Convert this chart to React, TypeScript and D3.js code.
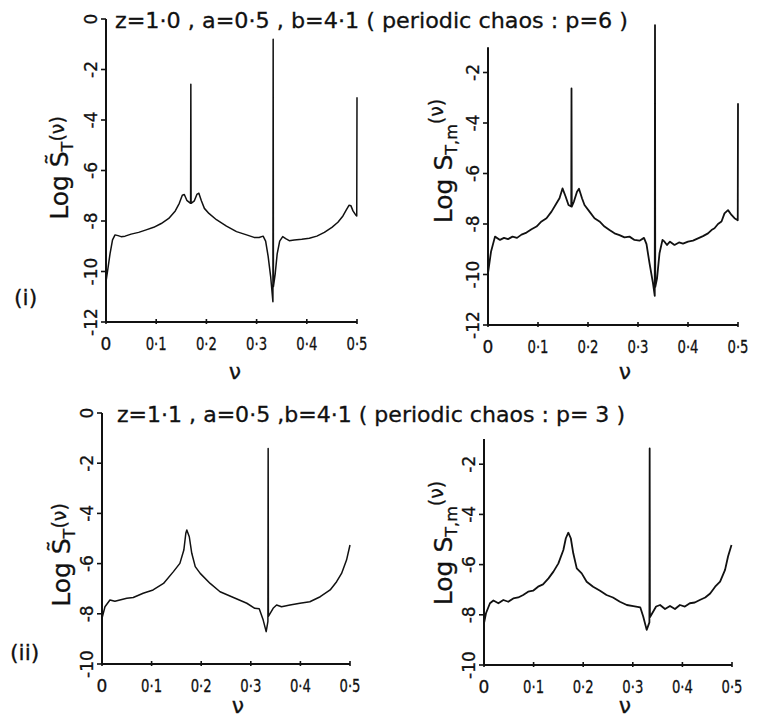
import React from "react";
import * as d3 from "d3";

// ---------- data (ν, log S) ----------
const specTildeP6: [number, number][] = [
  [0, -10.4], [0.003, -10.0], [0.008, -9.3], [0.013, -8.75], [0.018, -8.55], [0.024, -8.58],
  [0.03, -8.62], [0.038, -8.6], [0.05, -8.52], [0.065, -8.45], [0.08, -8.35], [0.095, -8.25],
  [0.11, -8.1], [0.125, -7.9], [0.138, -7.6], [0.146, -7.3], [0.152, -6.98], [0.156, -6.95],
  [0.161, -7.18], [0.1685, -7.3], [0.169, -2.58], [0.1695, -7.3], [0.176, -7.2], [0.181, -6.95],
  [0.185, -6.9], [0.19, -7.2], [0.196, -7.5], [0.205, -7.7], [0.22, -7.95], [0.24, -8.2],
  [0.26, -8.42], [0.28, -8.55], [0.295, -8.65], [0.305, -8.65], [0.313, -8.6], [0.318, -8.8],
  [0.323, -9.4], [0.328, -10.2], [0.3325, -11.2], [0.333, -0.8], [0.3335, -10.6], [0.337, -10.1],
  [0.341, -9.3], [0.346, -8.8], [0.352, -8.62], [0.358, -8.7], [0.365, -8.78], [0.375, -8.75],
  [0.39, -8.72], [0.405, -8.68], [0.42, -8.6], [0.435, -8.45], [0.45, -8.25], [0.462, -8.05],
  [0.472, -7.8], [0.479, -7.55], [0.484, -7.38], [0.488, -7.4], [0.492, -7.6], [0.497, -7.75],
  [0.4995, -7.8], [0.5, -3.1],
];

const specMP6: [number, number][] = [
  [0, -9.95], [0.006, -9.1], [0.014, -8.5], [0.024, -8.63], [0.032, -8.55], [0.04, -8.6],
  [0.049, -8.5], [0.058, -8.55], [0.067, -8.42], [0.077, -8.34], [0.087, -8.21], [0.097, -8.1],
  [0.107, -7.9], [0.117, -7.77], [0.127, -7.51], [0.137, -7.18], [0.143, -6.98], [0.149, -6.59],
  [0.155, -6.9], [0.161, -7.25], [0.1665, -7.31], [0.167, -2.63], [0.1675, -7.31], [0.172, -7.1],
  [0.178, -6.72], [0.182, -6.6], [0.188, -6.98], [0.193, -7.25], [0.203, -7.51], [0.213, -7.77],
  [0.223, -7.9], [0.233, -8.1], [0.243, -8.24], [0.253, -8.37], [0.263, -8.44], [0.273, -8.53],
  [0.283, -8.5], [0.293, -8.63], [0.303, -8.66], [0.312, -8.55], [0.317, -8.8], [0.323, -9.55],
  [0.33, -10.35], [0.3335, -10.85], [0.334, -0.12], [0.3345, -10.5], [0.338, -10.16],
  [0.343, -9.16], [0.349, -8.63], [0.353, -8.7], [0.358, -8.83], [0.364, -8.7], [0.373, -8.83],
  [0.382, -8.73], [0.39, -8.78], [0.4, -8.7], [0.41, -8.66], [0.42, -8.57], [0.43, -8.48],
  [0.44, -8.37], [0.447, -8.24], [0.453, -8.17], [0.46, -8.0], [0.467, -7.9], [0.473, -7.58],
  [0.48, -7.45], [0.487, -7.64], [0.493, -7.77], [0.4995, -7.85], [0.5, -3.22],
];

const specTildeP3: [number, number][] = [
  [0, -8.18], [0.006, -7.72], [0.016, -7.45], [0.026, -7.5], [0.036, -7.45], [0.05, -7.38],
  [0.063, -7.35], [0.083, -7.18], [0.103, -7.05], [0.124, -6.79], [0.144, -6.32], [0.157, -5.99],
  [0.165, -5.46], [0.169, -4.79], [0.171, -4.66], [0.176, -4.93], [0.181, -5.59], [0.188, -6.12],
  [0.198, -6.39], [0.218, -6.79], [0.238, -7.12], [0.265, -7.35], [0.292, -7.58], [0.308, -7.78],
  [0.317, -7.8], [0.325, -8.25], [0.331, -8.71], [0.3345, -8.3], [0.335, -1.41], [0.3355, -8.1],
  [0.345, -7.78], [0.352, -7.65], [0.362, -7.72], [0.379, -7.65], [0.399, -7.58], [0.419, -7.52],
  [0.44, -7.32], [0.46, -7.05], [0.473, -6.72], [0.483, -6.39], [0.493, -5.86], [0.5, -5.26],
];

const specMP3: [number, number][] = [
  [0, -8.34], [0.004, -7.94], [0.012, -7.54], [0.019, -7.43], [0.029, -7.54], [0.039, -7.41],
  [0.049, -7.48], [0.059, -7.35], [0.069, -7.31], [0.079, -7.21], [0.089, -7.08], [0.099, -7.04],
  [0.109, -6.88], [0.119, -6.79], [0.13, -6.55], [0.14, -6.28], [0.15, -5.95], [0.16, -5.42],
  [0.165, -4.95], [0.17, -4.73], [0.175, -4.95], [0.18, -5.55], [0.187, -6.15], [0.197, -6.35],
  [0.207, -6.68], [0.22, -6.88], [0.234, -7.04], [0.247, -7.21], [0.26, -7.31], [0.274, -7.48],
  [0.288, -7.61], [0.301, -7.65], [0.315, -7.7], [0.321, -8.07], [0.328, -8.6], [0.3335, -8.3],
  [0.334, -1.37], [0.3345, -8.1], [0.347, -7.67], [0.355, -7.61], [0.365, -7.77], [0.375, -7.65],
  [0.385, -7.77], [0.395, -7.61], [0.405, -7.67], [0.415, -7.54], [0.425, -7.51], [0.435, -7.41],
  [0.446, -7.31], [0.456, -7.15], [0.466, -6.88], [0.476, -6.68], [0.486, -6.21], [0.492, -5.68],
  [0.499, -5.22],
];

const xTicks = [0, 0.1, 0.2, 0.3, 0.4, 0.5];
const xTickLabels = ["0", "0·1", "0·2", "0·3", "0·4", "0·5"];
const yTicksRow1Left = [0, -2, -4, -6, -8, -10, -12];
const yTicksRow1Right = [-2, -4, -6, -8, -10, -12];
const yTicksRow2Left = [0, -2, -4, -6, -8, -10];
const yTicksRow2Right = [-2, -4, -6, -8, -10];

const titleRow1 = "z=1·0 , a=0·5 , b=4·1 ( periodic chaos : p=6 )";
const titleRow2 = "z=1·1 , a=0·5 ,b=4·1 ( periodic chaos : p= 3 )";

// ---------- layout ----------
type Panel = {
  data: [number, number][];
  x0: number; x1: number; yTop: number; yBot: number;
  yMin: number; axisTop: number; ticks: number[];
  labelX: number; labelY: number; kind: "tilde" | "m";
  nuX: number; nuY: number;
};

const panels: Panel[] = [
  { data: specTildeP6, x0: 106, x1: 357, yTop: 19, yBot: 322, yMin: -12, axisTop: 0, ticks: yTicksRow1Left,
    labelX: 68, labelY: 168, kind: "tilde", nuX: 235, nuY: 379 },
  { data: specMP6, x0: 488, x1: 738, yTop: 22, yBot: 325, yMin: -12, axisTop: -1, ticks: yTicksRow1Right,
    labelX: 452, labelY: 161, kind: "m", nuX: 625, nuY: 379 },
  { data: specTildeP3, x0: 102, x1: 350, yTop: 413, yBot: 664, yMin: -10, axisTop: 0, ticks: yTicksRow2Left,
    labelX: 70, labelY: 555, kind: "tilde", nuX: 238, nuY: 713 },
  { data: specMP3, x0: 484, x1: 732, yTop: 414, yBot: 665, yMin: -10, axisTop: -1, ticks: yTicksRow2Right,
    labelX: 452, labelY: 543, kind: "m", nuX: 625, nuY: 713 },
];

const FONT = "'DejaVu Sans', 'Liberation Sans', sans-serif";
const INK = "#111";

function PanelView({ p }: { p: Panel }) {
  const x = d3.scaleLinear().domain([0, 0.5]).range([p.x0, p.x1]);
  const y = d3.scaleLinear().domain([p.yMin, 0]).range([p.yBot, p.yTop]);
  const line = d3.line<[number, number]>().x((d) => x(d[0])).y((d) => y(d[1]));
  return (
    <g>
      {/* axes */}
      <line x1={p.x0} x2={p.x0} y1={y(p.axisTop)} y2={p.yBot} stroke={INK} strokeWidth={2} />
      <line x1={p.x0} x2={p.x1} y1={p.yBot} y2={p.yBot} stroke={INK} strokeWidth={2.2} />
      {xTicks.map((t, i) => (
        <g key={"x" + i}>
          <line x1={x(t)} x2={x(t)} y1={p.yBot - 3} y2={p.yBot + 2} stroke={INK} strokeWidth={1.6} />
          <text x={x(t)} y={p.yBot + 28} textAnchor="middle" fontSize={17} fontFamily={FONT} fill={INK}
            stroke={INK} strokeWidth={0.3}
            {...(xTickLabels[i].length > 1 ? { textLength: 21, lengthAdjust: "spacingAndGlyphs" } : {})}>
            {xTickLabels[i]}
          </text>
        </g>
      ))}
      {p.ticks.map((t, i) => (
        <g key={"y" + i}>
          <line x1={p.x0 - 5} x2={p.x0} y1={y(t)} y2={y(t)} stroke={INK} strokeWidth={1.6} />
          <text transform={`translate(${p.x0 - 9},${y(t)}) rotate(-90)`} textAnchor="middle" fontSize={17}
            fontFamily={FONT} fill={INK} stroke={INK} strokeWidth={0.3}>
            {t === 0 ? "0" : "-" + Math.abs(t)}
          </text>
        </g>
      ))}
      {/* curve */}
      <path d={line(p.data) || ""} fill="none" stroke={INK} strokeWidth={p.kind === "m" ? 1.8 : 1.5}
        strokeLinejoin="round" />
      {/* y label */}
      <text transform={`translate(${p.labelX},${p.labelY}) rotate(-90)`} textAnchor="middle" fontSize={25}
        fontFamily={FONT} fill={INK} stroke={INK} strokeWidth={0.3}>
        {p.kind === "tilde" ? (
          <>
            <tspan>Log S̃</tspan>
            <tspan fontSize={16} dy={5}>T</tspan>
            <tspan fontSize={19} dy={-9}>(ν)</tspan>
          </>
        ) : (
          <>
            <tspan>Log S</tspan>
            <tspan fontSize={16} dy={5}>T,m</tspan>
            <tspan fontSize={19} dy={-14}>(ν)</tspan>
          </>
        )}
      </text>
      {/* x label */}
      <text x={p.nuX} y={p.nuY} textAnchor="middle" fontSize={22} fontFamily={FONT} fill={INK}
        stroke={INK} strokeWidth={0.3}>ν</text>
    </g>
  );
}

export default function App() {
  return (
    <svg width={758} height={720} viewBox="0 0 758 720"
      style={{ display: "block", background: "#fff", position: "absolute", left: 0, top: 0 }}
      xmlns="http://www.w3.org/2000/svg">
      <rect x={0} y={0} width={758} height={720} fill="#fff" />
      <text x={115} y={28} fontSize={21} fontFamily={FONT} fill={INK} stroke={INK} strokeWidth={0.3}
        textLength={513} lengthAdjust="spacingAndGlyphs">{titleRow1}</text>
      <text x={117} y={422} fontSize={21} fontFamily={FONT} fill={INK} stroke={INK} strokeWidth={0.3}
        textLength={508} lengthAdjust="spacingAndGlyphs">{titleRow2}</text>
      <text x={14} y={305} fontSize={22} fontFamily={FONT} fill={INK} stroke={INK} strokeWidth={0.3}>(i)</text>
      <text x={10} y={660} fontSize={22} fontFamily={FONT} fill={INK} stroke={INK} strokeWidth={0.3}>(ii)</text>
      {panels.map((p, i) => (
        <PanelView key={i} p={p} />
      ))}
    </svg>
  );
}
